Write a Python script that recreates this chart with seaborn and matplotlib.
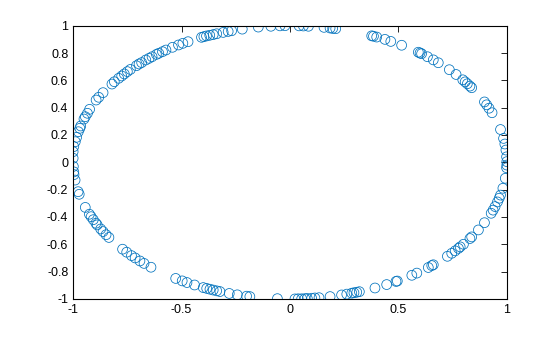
import matplotlib
matplotlib.use("Agg")
import matplotlib.pyplot as plt
import seaborn as sns
import pandas as pd

# Points: upper arc (left to right)
x_upper = [-1.0, -1.0, -0.997, -0.99, -0.984, -0.976, -0.969, -0.965, -0.95, -0.944,
           -0.934, -0.924, -0.894, -0.882, -0.862, -0.821, -0.81, -0.79, -0.776, -0.764,
           -0.75, -0.736, -0.708, -0.696, -0.684, -0.665, -0.65, -0.636, -0.616, -0.605,
           -0.588, -0.572, -0.542, -0.514, -0.494, -0.47, -0.408, -0.397, -0.385, -0.37,
           -0.354, -0.338, -0.308, -0.285, -0.269, -0.22, -0.146, -0.088, -0.046, -0.023,
           0.042, 0.062, 0.085, 0.157, 0.185, 0.197, 0.211, 0.377, 0.385, 0.40,
           0.438, 0.465, 0.515, 0.592, 0.60, 0.607, 0.634, 0.661, 0.684, 0.735,
           0.766, 0.797, 0.808, 0.818, 0.83, 0.838, 0.897, 0.907, 0.918, 0.932,
           0.971, 0.985, 0.991, 0.996, 0.999, 1.0]
y_upper = [0.03, 0.078, 0.115, 0.151, 0.183, 0.224, 0.249, 0.266, 0.317, 0.334,
           0.359, 0.388, 0.456, 0.476, 0.51, 0.573, 0.59, 0.615, 0.632, 0.647,
           0.664, 0.68, 0.707, 0.72, 0.73, 0.749, 0.761, 0.773, 0.79, 0.798,
           0.81, 0.822, 0.842, 0.859, 0.871, 0.883, 0.915, 0.92, 0.925, 0.93,
           0.935, 0.941, 0.951, 0.958, 0.963, 0.975, 0.99, 0.996, 0.999, 1.0,
           0.999, 0.998, 0.996, 0.988, 0.983, 0.98, 0.978, 0.926, 0.923, 0.917,
           0.90, 0.885, 0.857, 0.806, 0.80, 0.795, 0.773, 0.75, 0.729, 0.678,
           0.643, 0.604, 0.589, 0.575, 0.558, 0.546, 0.442, 0.421, 0.396, 0.363,
           0.24, 0.175, 0.134, 0.09, 0.04, 0.005]

# Lower arc (left to right)
x_lower = [-0.999, -0.997, -0.996, -0.991, -0.977, -0.972, -0.944, -0.925, -0.917, -0.907,
           -0.895, -0.889, -0.873, -0.862, -0.848, -0.835, -0.772, -0.753, -0.731, -0.714,
           -0.692, -0.673, -0.641, -0.527, -0.497, -0.475, -0.44, -0.40, -0.384, -0.369,
           -0.354, -0.338, -0.323, -0.28, -0.243, -0.20, -0.185, -0.058, 0.023, 0.038,
           0.054, 0.069, 0.08, 0.10, 0.115, 0.134, 0.185, 0.238, 0.262, 0.285,
           0.295, 0.308, 0.32, 0.392, 0.446, 0.489, 0.495, 0.562, 0.585, 0.638,
           0.654, 0.661, 0.726, 0.746, 0.762, 0.777, 0.785, 0.80, 0.83, 0.838,
           0.869, 0.897, 0.928, 0.937, 0.946, 0.957, 0.965, 0.971, 0.982, 0.993,
           0.999, 1.0]
y_lower = [-0.03, -0.07, -0.09, -0.13, -0.215, -0.234, -0.33, -0.38, -0.398, -0.42,
           -0.446, -0.458, -0.488, -0.507, -0.53, -0.55, -0.636, -0.658, -0.683, -0.70,
           -0.722, -0.74, -0.768, -0.85, -0.868, -0.88, -0.898, -0.917, -0.923, -0.929,
           -0.935, -0.941, -0.946, -0.96, -0.97, -0.98, -0.983, -0.998, -1.0, -0.999,
           -0.999, -0.998, -0.997, -0.995, -0.993, -0.991, -0.983, -0.971, -0.965, -0.958,
           -0.955, -0.951, -0.947, -0.92, -0.895, -0.872, -0.869, -0.827, -0.811, -0.77,
           -0.756, -0.75, -0.688, -0.666, -0.648, -0.63, -0.619, -0.60, -0.558, -0.546,
           -0.495, -0.442, -0.373, -0.35, -0.324, -0.29, -0.263, -0.24, -0.19, -0.117,
           -0.04, -0.02]

x_ticks = [-1, -0.5, 0, 0.5, 1]
x_tick_labels = ["-1", "-0.5", "0", "0.5", "1"]
y_ticks = [-1, -0.8, -0.6, -0.4, -0.2, 0, 0.2, 0.4, 0.6, 0.8, 1]
y_tick_labels = ["-1", "-0.8", "-0.6", "-0.4", "-0.2", "0", "0.2", "0.4", "0.6", "0.8", "1"]

df = pd.DataFrame({"x": x_upper + x_lower, "y": y_upper + y_lower})

sns.set_style("white")
plt.rcParams["font.family"] = ["Liberation Sans", "DejaVu Sans"]

color = (0.0, 0.447, 0.741)
fig = plt.figure(figsize=(5.6, 3.37), dpi=100)
ax = fig.add_axes([0.1306, 0.113, 0.7744, 0.8107])
sns.scatterplot(data=df, x="x", y="y", ax=ax, s=50, marker="o",
                color=color, linewidth=0.55)
coll = ax.collections[0]
coll.set_facecolor("none")
coll.set_edgecolor(color)
coll.set_linewidth(0.55)

ax.set_xlim(-1, 1)
ax.set_ylim(-1, 1)
ax.set_xticks(x_ticks)
ax.set_xticklabels(x_tick_labels)
ax.set_yticks(y_ticks)
ax.set_yticklabels(y_tick_labels)
ax.set_xlabel("")
ax.set_ylabel("")
for sp in ax.spines.values():
    sp.set_visible(True)
    sp.set_color("black")
    sp.set_linewidth(0.8)
ax.tick_params(direction="in", length=4, width=0.6, top=True, right=True,
               labelsize=9, colors="black", pad=3.5)
ax.set_facecolor("white")
fig.patch.set_facecolor("white")
fig.savefig("out.png", dpi=100, facecolor="white")
